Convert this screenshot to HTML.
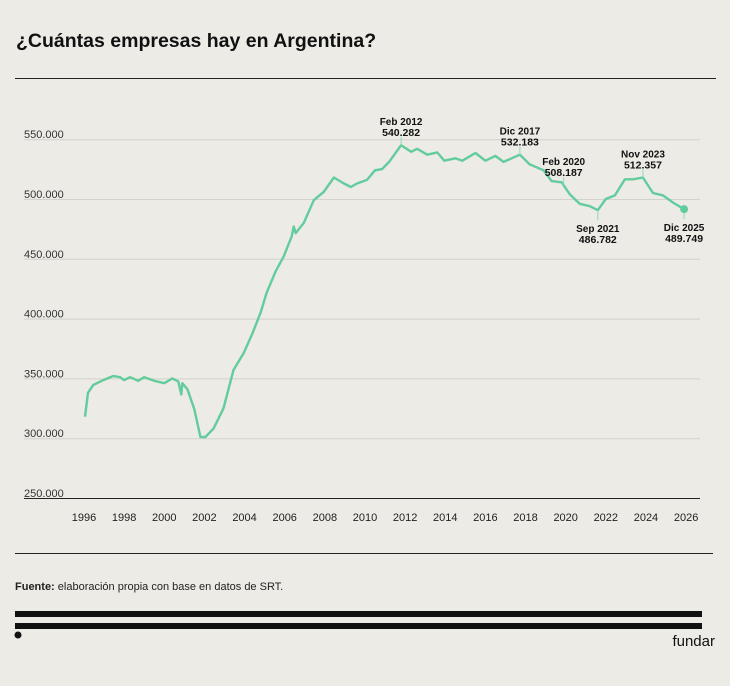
<!DOCTYPE html>
<html><head><meta charset="utf-8"><style>
body{margin:0;background:#ecebe6;font-family:"Liberation Sans",sans-serif;}
#w{position:relative;width:730px;height:686px;overflow:hidden;}
</style></head><body><div id="w">
<svg width="730" height="686">
<text x="16" y="47" font-size="19.5" font-weight="bold" fill="#111">¿Cuántas empresas hay en Argentina?</text>
<line x1="15" x2="716" y1="78.5" y2="78.5" stroke="#222"/>
<g id="grid"></g><g id="xt"></g>
<path id="line" fill="none" stroke="#63cc9c" stroke-width="2.4" stroke-linejoin="round"/>
<g id="ann"></g>
<line x1="15" x2="713" y1="553.5" y2="553.5" stroke="#222"/>
<text x="15" y="590" font-size="11" fill="#222"><tspan font-weight="bold">Fuente:</tspan> elaboración propia con base en datos de SRT.</text>
<rect x="15" y="611" width="687" height="6" fill="#111"/>
<rect x="15" y="623" width="687" height="6" fill="#111"/>
<circle cx="18" cy="635" r="3.5" fill="#111"/>
<text x="715" y="646" font-size="15" text-anchor="end" fill="#111">fundar</text>
</svg></div>
<script>
const years=[1996.05,1996.2,1996.46,1996.96,1997.46,1997.8,1998.0,1998.3,1998.7,1999.0,1999.5,2000.0,2000.4,2000.7,2000.85,2000.9,2001.15,2001.5,2001.8,2002.05,2002.45,2002.95,2003.45,2003.95,2004.4,2004.8,2005.1,2005.55,2005.95,2006.35,2006.45,2006.55,2006.95,2007.45,2007.95,2008.45,2008.95,2009.3,2009.6,2010.1,2010.5,2010.85,2011.2,2011.5,2011.8,2012.3,2012.6,2013.1,2013.6,2013.95,2014.5,2014.85,2015.5,2016.0,2016.5,2016.9,2017.72,2018.2,2018.9,2019.3,2019.8,2020.2,2020.7,2021.2,2021.6,2022.0,2022.45,2022.95,2023.35,2023.85,2024.35,2024.85,2025.35,2025.9];
const values=[318,338,344.5,348.6,352,351,348.6,351,348,351,348,346,350,347.5,336.5,346,341,324,301,301,308,325,357,371,388,405,421.5,439.6,452,468.7,477,471.5,480,499,506,518,513,510,513,516,524,525,531,538,545,539.5,542,537,539,532,534,532,538.5,532,536,531,537,529,524,515,514,504,496,494,490.6,500,503,516.5,516.5,518,505,503,497,491.5];
const yTicks=[250000,300000,350000,400000,450000,500000,550000];
const yTickLabels=["250.000","300.000","350.000","400.000","450.000","500.000","550.000"];
const xTicks=[1996,1998,2000,2002,2004,2006,2008,2010,2012,2014,2016,2018,2020,2022,2024,2026];
const annLabels=["Feb 2012","Dic 2017","Feb 2020","Sep 2021","Nov 2023","Dic 2025"];
const annValues=["540.282","532.183","508.187","486.782","512.357","489.749"];
const annYears=[2011.8,2017.72,2019.9,2021.6,2023.85,2025.9];
const annAbove=[true,true,true,false,true,false];
const NS="http://www.w3.org/2000/svg";
const X=y=>84+(y-1996)*20.07, Y=v=>498-(v-250000)/50000*59.8;
function mk(t,a,p){const e=document.createElementNS(NS,t);for(const k in a)e.setAttribute(k,a[k]);p.appendChild(e);return e;}
const g=document.getElementById('grid');
yTicks.forEach((v,i)=>{
 const l=mk('line',{x1:24,x2:700,y1:Y(v)+.5,y2:Y(v)+.5,stroke:i==0?'#222':'#d3d2cc'},g);
 
 
 const t=mk('text',{x:24,y:Y(v)-1,'font-size':11,fill:'#333'},g);t.textContent=yTickLabels[i];
 
 
});
const xt=document.getElementById('xt');
xTicks.forEach(y=>{const t=mk('text',{x:X(y),y:521,'font-size':11,fill:'#222','text-anchor':'middle'},xt);t.textContent=y;
 
 });
document.getElementById('line').setAttribute('d',years.map((y,i)=>(i?'L':'M')+X(y).toFixed(1)+' '+Y(values[i]*1000).toFixed(1)).join(''));
function valAt(y){for(let i=1;i<years.length;i++)if(years[i]>=y){const f=(y-years[i-1])/(years[i]-years[i-1]);return (values[i-1]+f*(values[i]-values[i-1]))*1000;}return values[values.length-1]*1000;}
const an=document.getElementById('ann');
annLabels.forEach((lab,i)=>{
 const x=X(annYears[i]),py=Y(valAt(annYears[i]));
 const up=annAbove[i];
 const l=mk('line',{x1:x,x2:x,y1:py,y2:up?py-8:py+10,stroke:'#8fd9b5','stroke-width':1},an);
 
 
 const ty=up?py-20:py+22;
 const t1=mk('text',{x:x,y:ty,'font-size':10,'text-anchor':'middle',fill:'#111','font-weight':'bold'},an);t1.textContent=lab;
 
 
 const t2=mk('text',{x:x,y:ty+11,'font-size':10.5,'text-anchor':'middle',fill:'#111','font-weight':'bold'},an);t2.textContent=annValues[i];
 
 
});
const c=mk('circle',{cx:X(years[years.length-1]),cy:Y(values[values.length-1]*1000),r:4,fill:'#63cc9c'},an);


</script></body></html>
